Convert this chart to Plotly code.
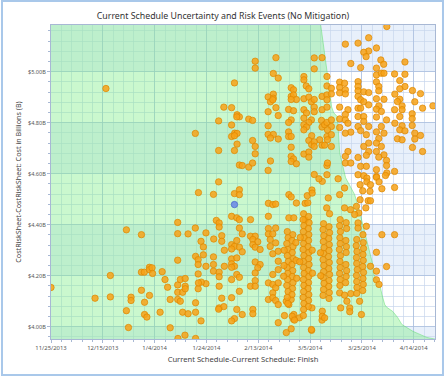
import plotly.graph_objects as go
import pandas as pd

BASE = pd.Timestamp("2013-11-25")

# ---- data (days after 11/25/2013, cost in $B) ----
early_points = [
    (21.2,4.934),(70.8,4.956),(66.7,4.861),(69.7,4.859),(71.8,4.831),(72.7,4.823),(71.7,4.823),(76.3,4.814),
    (64.7,4.807),(69.7,4.791),(55.7,4.758),(70.9,4.759),(71.8,4.758),(69.7,4.746),(70.8,4.749),(71.8,4.716),
    (64.7,4.691),(70.8,4.691),(72.7,4.634),(73.8,4.632),(76.3,4.626),
    (0.0,4.154),(17.0,4.112),(22.9,4.201),(22.9,4.117),(29.1,4.380),(29.1,4.063),(29.9,3.997),(30.9,4.116),
    (30.9,4.103),(34.9,4.361),(34.9,4.214),(36.0,4.214),(34.9,4.143),(36.1,4.096),(36.1,4.048),(37.0,4.038),
    (38.0,4.233),(38.0,4.224),(39.0,4.231),(39.2,4.209),(38.0,4.123),(42.1,4.057),(42.9,4.216),(44.0,4.185),
    (45.0,4.155),(46.0,3.996),(46.0,4.107),
    (48.9,4.409),(48.9,4.365),(48.9,4.261),(48.9,4.164),(48.9,4.135),(48.9,4.107),(49.9,4.185),(49.9,4.100),
    (50.8,4.135),(51.8,4.159),(51.8,4.189),(51.8,4.149),(50.8,4.057),(52.9,4.051),(52.9,4.364),(51.7,3.967),
    (55.7,4.387),(55.8,4.276),(56.8,4.263),(56.8,4.244),(56.8,4.207),(55.8,4.094),(55.8,4.057),(57.9,4.023),
    (56.8,4.149),(56.9,4.526),(57.9,4.335),(58.8,4.313),(58.8,4.282),(59.8,4.237),(59.8,4.169),(58.0,4.175),
    (56.9,4.172),(62.7,4.519),(59.8,4.368),(62.8,4.344),(62.7,4.274),(62.7,4.244),(62.7,4.218),(63.8,4.417),
    (64.9,4.407),(64.9,4.391),(64.9,4.214),(64.9,4.196),(64.9,4.159),(64.9,4.074),(65.9,4.357),(65.9,4.335),
    (66.9,4.300),(66.9,4.237),(65.9,4.112),(64.7,4.568),(66.7,4.079),(64.7,4.069),(70.8,4.522),(72.7,4.537),
    (72.7,4.518),(69.7,4.433),(71.7,4.427),(72.7,4.420),(69.7,4.322),(70.8,4.315),(72.7,4.312),(71.7,4.338),
    (72.7,4.387),(69.7,4.305),(69.7,4.266),(69.7,4.247),(71.7,4.270),(70.8,4.237),(69.7,4.233),(71.7,4.205),
    (72.7,4.194),(69.7,4.185),(72.7,4.139),(69.7,4.114),(71.7,4.068),(70.8,4.032),(69.7,4.023),(49.0,3.954),
    (55.8,3.954),
]

upper_mid_points = [
    (78.8,5.041),(78.8,5.014),(86.8,5.055),(101.6,5.054),(104.6,5.055),(101.6,5.011),(85.8,4.993),(87.7,4.975),
    (97.6,4.981),(97.6,4.968),(98.5,4.944),(99.5,4.933),(106.5,4.981),(106.5,4.944),(92.7,4.937),(93.6,4.929),
    (85.8,4.912),(83.8,4.901),(85.8,4.896),(84.7,4.882),(85.6,4.890),(92.7,4.903),(93.6,4.909),(94.7,4.891),
    (92.7,4.891),(97.6,4.894),(99.5,4.900),(100.5,4.882),(101.6,4.891),(104.6,4.903),(106.5,4.909),(106.5,4.890),
    (86.8,4.859),(83.8,4.843),(91.7,4.852),(93.6,4.847),(92.7,4.811),(91.7,4.801),(97.6,4.851),(98.6,4.838),
    (97.6,4.818),(100.5,4.811),(99.5,4.801),(101.6,4.861),(101.6,4.843),(104.6,4.851),(106.5,4.861),(87.7,4.828),
    (77.8,4.809),(83.8,4.788),(97.6,4.792),(98.6,4.783),(97.6,4.772),(104.4,4.809),(104.6,4.783),(105.6,4.792),
    (106.5,4.801),(91.7,4.764),(91.7,4.746),(92.7,4.746),(83.8,4.754),(85.8,4.754),(84.7,4.740),(87.7,4.736),
    (100.6,4.749),(99.5,4.730),(100.6,4.714),(103.7,4.733),(104.6,4.712),(105.6,4.712),(106.5,4.746),(77.8,4.730),
    (78.8,4.707),(92.7,4.704),(101.6,4.725),(101.6,4.707),(78.8,4.678),(97.6,4.677),(99.5,4.685),(99.5,4.665),
    (92.7,4.668),(93.6,4.658),(92.7,4.648),(94.7,4.639),(84.7,4.650),(77.8,4.642),(83.8,4.613),(101.6,4.597),
    (106.5,4.632),(106.5,4.596),
]

upper_right_points = [
    (129.6,5.177),(122.6,5.133),(113.6,5.108),(118.5,5.112),(125.6,5.093),(122.6,5.081),(120.7,5.076),(121.6,5.059),
    (115.7,5.032),(119.5,5.016),(127.3,5.046),(128.4,5.029),(136.6,5.038),(125.6,5.014),(125.6,4.987),(127.5,4.994),
    (128.5,4.994),(132.6,4.991),(136.6,4.990),(134.6,4.965),(136.6,4.942),(134.6,4.933),(139.5,4.926),(142.6,4.914),
    (147.4,4.866),(143.4,4.857),(140.4,4.882),(111.4,4.959),(113.3,4.955),(111.4,4.938),(113.6,4.929),(111.4,4.917),
    (113.6,4.913),(108.2,4.935),(108.2,4.913),(118.5,4.961),(118.5,4.942),(118.5,4.925),(118.5,4.903),(119.5,4.890),
    (120.7,4.921),(122.6,4.918),(120.7,4.882),(122.6,4.870),(125.6,4.960),(126.5,4.942),(126.5,4.925),(125.6,4.894),
    (128.5,4.892),(126.5,4.866),(132.7,4.912),(134.6,4.892),(133.7,4.883),(132.6,4.851),(135.5,4.866),(135.5,4.851),
    (111.4,4.861),(114.6,4.851),(113.6,4.832),(111.4,4.815),(113.6,4.811),(114.6,4.798),(111.4,4.781),(115.7,4.763),
    (113.6,4.759),(118.5,4.857),(119.5,4.857),(118.5,4.824),(120.7,4.824),(118.5,4.785),(120.7,4.805),(119.5,4.769),
    (122.6,4.785),(121.7,4.753),(122.6,4.720),(120.7,4.707),(122.6,4.687),(121.7,4.672),(125.6,4.853),(127.5,4.844),
    (125.6,4.822),(129.5,4.811),(127.5,4.785),(125.6,4.764),(128.5,4.759),(126.5,4.738),(125.6,4.720),(127.5,4.707),
    (125.6,4.687),(128.5,4.674),(126.5,4.665),(129.5,4.652),(129.5,4.632),(132.7,4.798),(134.6,4.824),(135.5,4.788),
    (134.6,4.772),(136.6,4.768),(133.7,4.737),(135.5,4.733),(139.4,4.835),(139.4,4.816),(139.4,4.789),(140.4,4.759),
    (142.6,4.750),(140.4,4.736),(139.5,4.703),(143.4,4.687),(114.6,4.687),(113.6,4.668),(113.6,4.642),(115.7,4.642),
    (118.5,4.664),(119.5,4.629),(121.7,4.629),(118.5,4.596),(120.7,4.592),(125.6,4.616),(125.6,4.589),(129.6,4.603),
    (132.6,4.609),(108.2,4.811),(108.2,4.785),(106.7,4.772),(108.2,4.753),(106.7,4.733),(108.2,4.707),(106.7,4.642),
]

lower_points = [
    (91.8,4.518),(92.7,4.509),(83.9,4.484),(85.6,4.479),(86.7,4.481),(98.1,4.484),(99.1,4.486),(83.9,4.433),
    (91.8,4.427),(93.7,4.427),(98.1,4.419),(77.0,4.420),(73.8,4.364),(77.0,4.355),(78.8,4.355),(77.9,4.342),
    (79.8,4.333),(77.9,4.322),(78.8,4.312),(80.7,4.303),(83.9,4.385),(86.7,4.387),(83.9,4.364),(85.6,4.364),
    (84.6,4.342),(86.7,4.329),(84.6,4.315),(85.6,4.286),(87.7,4.296),(73.8,4.294),(78.8,4.254),(80.7,4.244),
    (79.8,4.231),(78.8,4.211),(87.7,4.257),(87.7,4.224),(85.6,4.205),(77.0,4.159),(78.8,4.181),(78.8,4.159),
    (83.9,4.172),(85.6,4.166),(86.7,4.153),(87.7,4.172),(85.6,4.133),(83.9,4.107),(85.6,4.114),(86.7,4.103),
    (87.7,4.087),(73.8,4.048),(77.9,4.068),(77.9,4.051),(87.7,4.016),(90.8,3.977),(92.7,3.992),(93.7,4.048),
    (93.6,4.029),(95.9,4.035),(91.8,4.087),(90.8,4.100),(92.7,4.107),(100.6,3.986),(104.6,4.026),(94.7,4.485),
    (121.9,4.583),(121.9,4.568),(119.3,4.557),(120.3,4.533),(123.1,4.531),(119.3,4.498),(122.4,4.494),(100.7,4.536),
    (104.7,4.570),(103.4,4.580),(110.8,4.580),(113.3,4.544),(107.0,4.505),(113.3,4.466),(115.6,4.459),(117.9,4.472),
    (118.8,4.446),(117.2,4.440),(106.4,4.466),(107.5,4.443),(118.5,4.407),(118.5,4.387),(120.4,4.361),(121.7,4.394),
    (111.4,4.133),(113.3,4.124),(114.2,4.100),(111.8,4.074),(115.3,4.074),(115.3,4.059),(100.7,4.074),(104.7,4.061),
    (104.7,4.041),(105.6,4.035),(119.8,4.048),(100.5,3.989),(125.6,4.586),(129.1,4.593),(126.6,4.568),(127.7,4.541),
    (132.6,4.546),(123.3,4.557),(123.3,4.494),(127.7,4.361),(132.6,4.361),(125.6,4.292),(129.5,4.236),(123.3,4.237),
    (125.6,4.218),(125.6,4.184),(126.6,4.166),(121.5,4.466),(119.1,4.100),(98.9,4.514),(100.8,4.524),(111.4,4.518),
    (115.7,4.130),(90.1,4.044),(93.1,4.041),(94.0,4.026),
]

lower_dense_points = [
    (91.2,4.373),(93.3,4.361),(91.5,4.349),(93.0,4.338),(91.0,4.326),(93.4,4.314),(91.4,4.303),(93.1,4.291),
    (91.2,4.279),(93.5,4.267),(91.6,4.256),(93.0,4.244),(91.1,4.232),(93.3,4.220),(91.4,4.209),(93.1,4.197),
    (91.3,4.185),(93.4,4.173),(91.0,4.162),(93.2,4.150),(91.5,4.138),(93.0,4.126),(91.2,4.115),(91.4,4.091),
    (89.9,4.240),(89.8,4.198),(90.0,4.300),(94.6,4.260),(94.8,4.190),(94.5,4.330),
    (97.5,4.443),(99.4,4.432),(97.3,4.420),(99.6,4.408),(97.6,4.396),(99.3,4.385),(97.4,4.373),(99.5,4.361),
    (97.7,4.349),(99.4,4.338),(97.5,4.326),(99.2,4.314),(97.3,4.303),(99.5,4.291),(97.6,4.279),(99.4,4.267),
    (97.4,4.256),(99.6,4.244),(97.5,4.232),(99.3,4.220),(97.7,4.209),(99.5,4.197),(97.4,4.185),(99.4,4.173),
    (97.6,4.162),(99.2,4.150),(97.5,4.138),(99.5,4.126),(97.3,4.115),(99.4,4.103),(97.6,4.091),(99.3,4.079),
    (97.5,4.068),(97.4,4.044),(96.2,4.350),(96.0,4.255),(100.8,4.300),(100.9,4.210),
    (105.2,4.404),(107.3,4.392),(105.0,4.381),(107.5,4.369),(105.3,4.357),(107.2,4.346),(105.1,4.334),(107.4,4.322),
    (105.4,4.310),(107.3,4.299),(105.2,4.287),(107.1,4.275),(105.0,4.263),(107.4,4.252),(105.3,4.240),(107.2,4.228),
    (105.2,4.216),(107.5,4.205),(105.1,4.193),(107.3,4.181),(105.4,4.170),(107.2,4.158),(105.2,4.146),(107.4,4.134),
    (105.0,4.123),(107.3,4.111),(104.0,4.290),(104.1,4.200),
    (111.6,4.420),(113.9,4.408),(111.4,4.396),(114.1,4.385),(111.7,4.373),(111.5,4.349),(113.8,4.338),(111.6,4.326),
    (114.0,4.314),(111.3,4.303),(113.9,4.291),(111.7,4.279),(111.5,4.256),(113.8,4.244),(111.6,4.232),(114.1,4.220),
    (111.4,4.209),(113.9,4.197),(111.6,4.185),(113.7,4.173),(111.5,4.162),
    (118.0,4.342),(120.5,4.330),(117.8,4.318),(120.6,4.307),(118.1,4.295),(120.4,4.283),(117.9,4.271),(120.5,4.260),
    (118.0,4.248),(120.3,4.236),(118.2,4.224),(120.6,4.213),(117.9,4.201),(120.4,4.189),(118.0,4.177),(120.5,4.166),
    (118.1,4.154),(120.3,4.142),(118.0,4.131),
]

highlight_points = [(70.8, 4.479)]

# cumulative-probability envelope (green area)
envelope_days = [-2, 103.8, 104.1, 105.2, 105.6, 106.6, 107.5, 108.3, 109.1, 110.6, 111.4, 113.7, 117.2, 119.1,
                 120.3, 121.9, 123.0, 124.2, 124.6, 126.9, 127.7, 128.8, 129.6, 131.9, 133.8, 135.4, 137.3,
                 139.7, 142.4, 145.1, 149.0]
envelope_cost = [5.25, 5.25, 5.183, 5.105, 5.074, 4.995, 4.929, 4.862, 4.839, 4.823, 4.682, 4.584, 4.518, 4.451,
                 4.400, 4.342, 4.283, 4.244, 4.205, 4.166, 4.127, 4.087, 4.076, 4.060, 4.036, 4.009, 3.997,
                 3.982, 3.970, 3.958, 3.950]

tick_days = [0, 20, 40, 60, 80, 100, 120, 140]
tick_labels = ["11/25/2013", "12/15/2013", "1/4/2014", "1/24/2014", "2/13/2014", "3/5/2014", "3/25/2014", "4/14/2014"]
cost_ticks = [4.0, 4.2, 4.4, 4.6, 4.8, 5.0]
x_span_days = [0, 148.2]
y_span = [3.952, 5.183]


def to_dates(days):
    return [BASE + pd.Timedelta(days=float(d)) for d in days]


all_points = early_points + upper_mid_points + upper_right_points + lower_points + lower_dense_points
px_days = [p[0] for p in all_points]
px_cost = [p[1] for p in all_points]

fig = go.Figure()

fig.add_trace(go.Scatter(
    x=to_dates(envelope_days), y=envelope_cost, mode="lines", fill="tozeroy",
    fillcolor="rgba(128,238,138,0.42)", line=dict(color="rgba(100,220,115,0.5)", width=1),
    hoverinfo="skip", showlegend=False))

fig.add_trace(go.Scatter(
    x=to_dates(px_days), y=px_cost, mode="markers",
    marker=dict(size=6.4, color="rgba(247,162,24,0.85)", line=dict(color="rgba(222,135,0,0.9)", width=0.8)),
    showlegend=False))

fig.add_trace(go.Scatter(
    x=to_dates([p[0] for p in highlight_points]), y=[p[1] for p in highlight_points], mode="markers",
    marker=dict(size=6.4, color="rgba(110,140,230,0.9)", line=dict(color="rgba(70,100,200,0.9)", width=0.8)),
    showlegend=False))

# alternating horizontal bands
shapes = []
band_edges = [3.8] + cost_ticks + [5.2]
for i in range(0, len(band_edges) - 1, 2):
    shapes.append(dict(type="rect", xref="paper", x0=0, x1=1, yref="y", y0=band_edges[i], y1=band_edges[i + 1],
                       fillcolor="rgb(232,240,251)", line=dict(width=0), layer="below"))
# outer frame
shapes.append(dict(type="rect", xref="paper", yref="paper", x0=-0.1276, x1=1.0208, y0=-0.1146, y1=1.0764,
                   line=dict(color="#A9C8EA", width=2), fillcolor="rgba(0,0,0,0)", layer="above"))

font_family = "Noto Sans, Open Sans, sans-serif"
fig.update_layout(
    width=446, height=378,
    margin=dict(l=51, r=11, t=25, b=39),
    paper_bgcolor="white", plot_bgcolor="white",
    shapes=shapes,
    font=dict(family=font_family, color="#444444", size=8),
    title=dict(text="Current Schedule Uncertainty and Risk Events (No Mitigation)", x=0.5, xref="container",
               xanchor="center", y=0.957, yref="container", yanchor="middle",
               font=dict(size=8.8, color="#333333", family=font_family)),
    xaxis=dict(
        type="date", range=to_dates(x_span_days),
        tickmode="array", tickvals=to_dates(tick_days), ticktext=tick_labels,
        tickfont=dict(size=5.9, color="#555555"),
        showgrid=True, gridcolor="rgba(170,190,222,0.75)", gridwidth=1,
        minor=dict(tick0=BASE, dtick=4 * 86400000, showgrid=True, gridcolor="rgba(200,214,236,0.7)",
                   ticks="outside", ticklen=2, tickcolor="#A8B8D4"),
        ticks="outside", ticklen=3, tickcolor="#A8B8D4",
        showline=True, linecolor="#A8B8D4", mirror=True, zeroline=False,
        title=dict(text="Current Schedule-Current Schedule: Finish", font=dict(size=7.6, color="#444444"),
                   standoff=5),
    ),
    yaxis=dict(
        range=y_span, tickmode="array", tickvals=cost_ticks, ticktext=["$%.2fB" % v for v in cost_ticks],
        tickfont=dict(size=5.6, color="#555555"),
        showgrid=True, gridcolor="rgba(170,190,222,0.75)", gridwidth=1,
        minor=dict(tick0=4.0, dtick=0.04, showgrid=True, gridcolor="rgba(200,214,236,0.7)",
                   ticks="outside", ticklen=2, tickcolor="#A8B8D4"),
        ticks="outside", ticklen=3, tickcolor="#A8B8D4",
        showline=True, linecolor="#A8B8D4", mirror=True, zeroline=False,
        title=dict(text="CostRiskSheet-CostRiskSheet: Cost in Billions (B)", font=dict(size=7.2, color="#444444"),
                   standoff=5),
    ),
)

fig.write_html("out.html", config={"displayModeBar": False},
               post_script="document.body.style.margin='0';document.body.style.padding='0';")
